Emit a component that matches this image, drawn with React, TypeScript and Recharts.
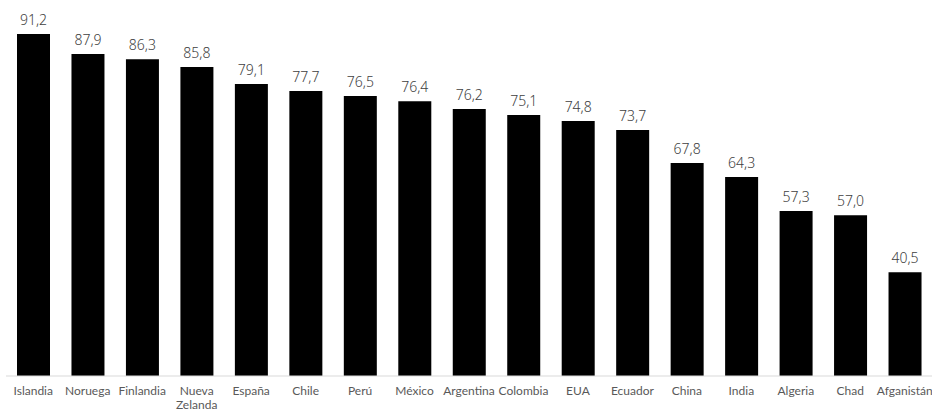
import { BarChart, Bar, XAxis, YAxis, LabelList } from "recharts"

// countries, left to right
const countries = [
  "Islandia", "Noruega", "Finlandia", "Nueva Zelanda", "España", "Chile", "Perú",
  "México", "Argentina", "Colombia", "EUA", "Ecuador", "China", "India",
  "Algeria", "Chad", "Afganistán",
]

// printed labels above the bars
const labels = [
  "91,2", "87,9", "86,3", "85,8", "79,1", "77,7", "76,5", "76,4", "76,2",
  "75,1", "74,8", "73,7", "67,8", "64,3", "57,3", "57,0", "40,5",
]

// bar heights
const heights = [
  91.2, 85.9, 84.5, 82.4, 77.9, 76.0, 74.7, 73.3, 71.2,
  69.6, 68.0, 65.6, 56.8, 53.1, 44.0, 42.9, 27.7,
]

const data = countries.map((name, i) => ({ name, value: heights[i], label: labels[i] }))

const FONT = "'Noto Sans', 'Open Sans', sans-serif"
const TICK_FONT = "Lato, 'Noto Sans', sans-serif"

const CountryTick = (props: any) => {
  const { x, y, payload } = props
  const lines = String(payload.value).split(" ")
  return (
    <text x={x} y={y} textAnchor="middle" fill="#595959" fontSize={12} fontFamily={TICK_FONT}>
      {lines.map((line: string, i: number) => (
        <tspan key={i} x={x} dy={i === 0 ? 8.5 : 14}>
          {line}
        </tspan>
      ))}
    </text>
  )
}

export default function App() {
  return (
    <div style={{ position: "absolute", left: 0, top: 0, width: 932, height: 412, background: "#fff" }}>
      <BarChart
        width={932}
        height={412}
        data={data}
        margin={{ top: 1, right: 0, bottom: 0, left: 6 }}
      >
        <XAxis
          dataKey="name"
          height={36}
          interval={0}
          tickLine={false}
          tickSize={0}
          tickMargin={10}
          axisLine={{ stroke: "#d9d9d9", strokeWidth: 1 }}
          tick={<CountryTick />}
        />
        <YAxis hide domain={[0, 100]} />
        <Bar dataKey="value" fill="#000000" barSize={33} isAnimationActive={false}>
          <LabelList
            dataKey="label"
            position="top"
            offset={9}
            fill="#404040"
            fontSize={14}
            fontFamily={FONT}
            fontWeight={300}
          />
        </Bar>
      </BarChart>
    </div>
  )
}
